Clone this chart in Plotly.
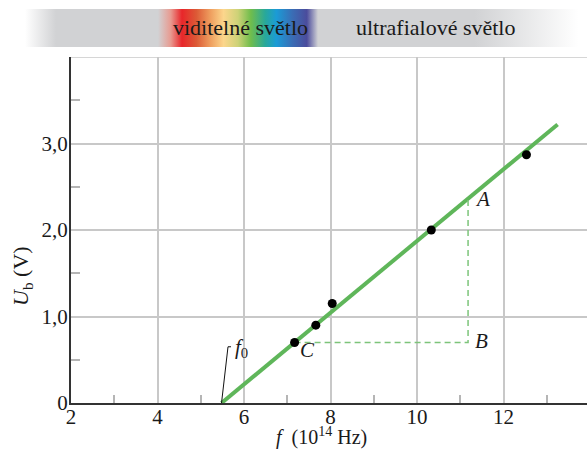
import plotly.graph_objects as go

# ---- data ----
meas_f = [7.17, 7.66, 8.04, 10.33, 12.53]      # 10^14 Hz
meas_U = [0.70, 0.90, 1.15, 2.00, 2.87]        # V
fit_f = [5.48, 13.25]
fit_U = [0.0, 3.22]
tri_f = [7.17, 11.18, 11.18]                   # C, B, A
tri_U = [0.70, 0.70, 2.36]
x_ticks = [2, 4, 6, 8, 10, 12]
x_ticktext = ["2", "4", "6", "8", "10", "12"]
y_ticks = [0, 1, 2, 3, 4]
y_ticktext = ["0", "1,0", "2,0", "3,0", ""]
x_minor = [3, 5, 7, 9, 11, 13]
y_minor = [0.5, 1.5, 2.5, 3.5]
band_labels = ["viditelné světlo", "ultrafialové světlo"]

W, H = 587, 449
SERIF = "Liberation Serif"
GREEN = "#5fb65a"
DASH_GREEN = "#7dc47a"
GRID = "#c8c8c8"

fig = go.Figure()

# band on auxiliary axes (pixel units)
fig.add_trace(go.Scatter(
    x=[25, 587, 587, 25, 25], y=[0, 0, 1, 1, 0], xaxis="x2", yaxis="y2",
    mode="lines", line=dict(width=0), fill="toself", hoverinfo="skip",
    fillgradient=dict(type="horizontal", colorscale=[
        [0, "#ffffff"], [0.055, "#d1d2d4"], [0.80, "#d1d2d4"], [0.985, "#ffffff"], [1, "#ffffff"]]),
    showlegend=False))
fig.add_trace(go.Scatter(
    x=[158, 318, 318, 158, 158], y=[0, 0, 1, 1, 0], xaxis="x2", yaxis="y2",
    mode="lines", line=dict(width=0), fill="toself", hoverinfo="skip",
    fillgradient=dict(type="horizontal", colorscale=[
        [0.00, "#d1d2d4"], [0.08, "#e89a90"], [0.15, "#e8262a"], [0.24, "#dc5a36"],
        [0.33, "#efa060"], [0.41, "#fcd68c"], [0.50, "#cdd277"], [0.58, "#70bd4c"],
        [0.67, "#28a89a"], [0.74, "#1b9bd6"], [0.84, "#3a6db5"], [0.93, "#4b4c9c"],
        [1.00, "#d1d2d4"]]),
    showlegend=False))

# fit line
fig.add_trace(go.Scatter(x=fit_f, y=fit_U, mode="lines",
                         line=dict(color=GREEN, width=4), showlegend=False, hoverinfo="skip"))
# dashed triangle
fig.add_trace(go.Scatter(x=tri_f, y=tri_U, mode="lines",
                         line=dict(color=DASH_GREEN, width=1.5, dash="6px,4px"),
                         showlegend=False, hoverinfo="skip"))
# f0 leader
fig.add_trace(go.Scatter(x=[fit_f[0], 5.63, 5.70], y=[fit_U[0], 0.65, 0.65], mode="lines",
                         line=dict(color="#111", width=1), showlegend=False, hoverinfo="skip"))
# measured points
fig.add_trace(go.Scatter(x=meas_f, y=meas_U, mode="markers",
                         marker=dict(color="#000", size=9), showlegend=False))

plot_h = H - 46
ytop = (plot_h - 57) / plot_h
fig.update_layout(
    width=W, height=H,
    margin=dict(l=0, r=0, t=0, b=46, autoexpand=False),
    paper_bgcolor="white", plot_bgcolor="white",
    font=dict(family=SERIF, size=21, color="#1a1a1a"),
    xaxis=dict(domain=[71 / W, 1], range=[2, 13.93], tickvals=x_ticks, ticktext=x_ticktext,
               showgrid=True, gridcolor=GRID, gridwidth=1.5, zeroline=False,
               showline=True, linecolor="#333", linewidth=2, ticks="",
               ticklabelstandoff=-6,
               minor=dict(tickvals=x_minor, ticks="inside", ticklen=8, tickcolor="#b5b5b5",
                          tickwidth=1.5, showgrid=False),
               tickfont=dict(family=SERIF, size=21), anchor="y"),
    yaxis=dict(domain=[0, ytop], range=[0, 4.0], tickvals=y_ticks, ticktext=y_ticktext,
               showgrid=True, gridcolor=GRID, gridwidth=1.5, zeroline=False,
               showline=True, linecolor="#333", linewidth=2, ticks="",
               ticklabelstandoff=-3,
               minor=dict(tickvals=y_minor, ticks="inside", ticklen=9, tickcolor="#b5b5b5",
                          tickwidth=1.5, showgrid=False),
               tickfont=dict(family=SERIF, size=21), anchor="x"),
    xaxis2=dict(domain=[0, 1], range=[0, W], visible=False, anchor="y2", fixedrange=True),
    yaxis2=dict(domain=[(plot_h - 47) / plot_h, (plot_h - 9) / plot_h], range=[0, 1],
                visible=False, anchor="x2", fixedrange=True),
)

# horizontal gridline at the top of plot (y=4)
fig.add_shape(type="line", xref="x", yref="y", x0=2, x1=13.93, y0=4, y1=4,
              line=dict(color=GRID, width=1.5))

ann = [
    dict(x=240, y=0.5, xref="x2", yref="y2", text=band_labels[0], font=dict(family=SERIF, size=22)),
    dict(x=435, y=0.5, xref="x2", yref="y2", text=band_labels[1], font=dict(family=SERIF, size=22)),
    dict(x=11.3, y=2.36, xref="x", yref="y", text="<i>A</i>", xanchor="left"),
    dict(x=11.3, y=0.72, xref="x", yref="y", text="<i>B</i>", xanchor="left"),
    dict(x=7.25, y=0.61, xref="x", yref="y", text="<i>C</i>", xanchor="left"),
    dict(x=5.74, y=0.64, xref="x", yref="y", text="<i>f</i><sub>0</sub>", xanchor="left"),
    dict(x=0.485, y=-0.0965, xref="x domain", yref="y domain",
         text="<i>f</i>\u00a0\u00a0(10<sup>14</sup>\u00a0Hz)", font=dict(family=SERIF, size=20)),
    dict(x=22, y=0.5, xref="x2", yref="paper", text="<i>U</i><sub>b</sub> (V)", textangle=-90,
         font=dict(family=SERIF, size=22)),
]
for a in ann:
    a.setdefault("showarrow", False)
    a.setdefault("font", dict(family=SERIF, size=21))
    a.setdefault("xanchor", "center")
    a.setdefault("yanchor", "middle")
    fig.add_annotation(**a)

fig.layout.annotations[-1].y = (plot_h - 276) / plot_h

fig.write_html("out.html", config={"displayModeBar": False},
               post_script="document.body.style.margin='0px';")
